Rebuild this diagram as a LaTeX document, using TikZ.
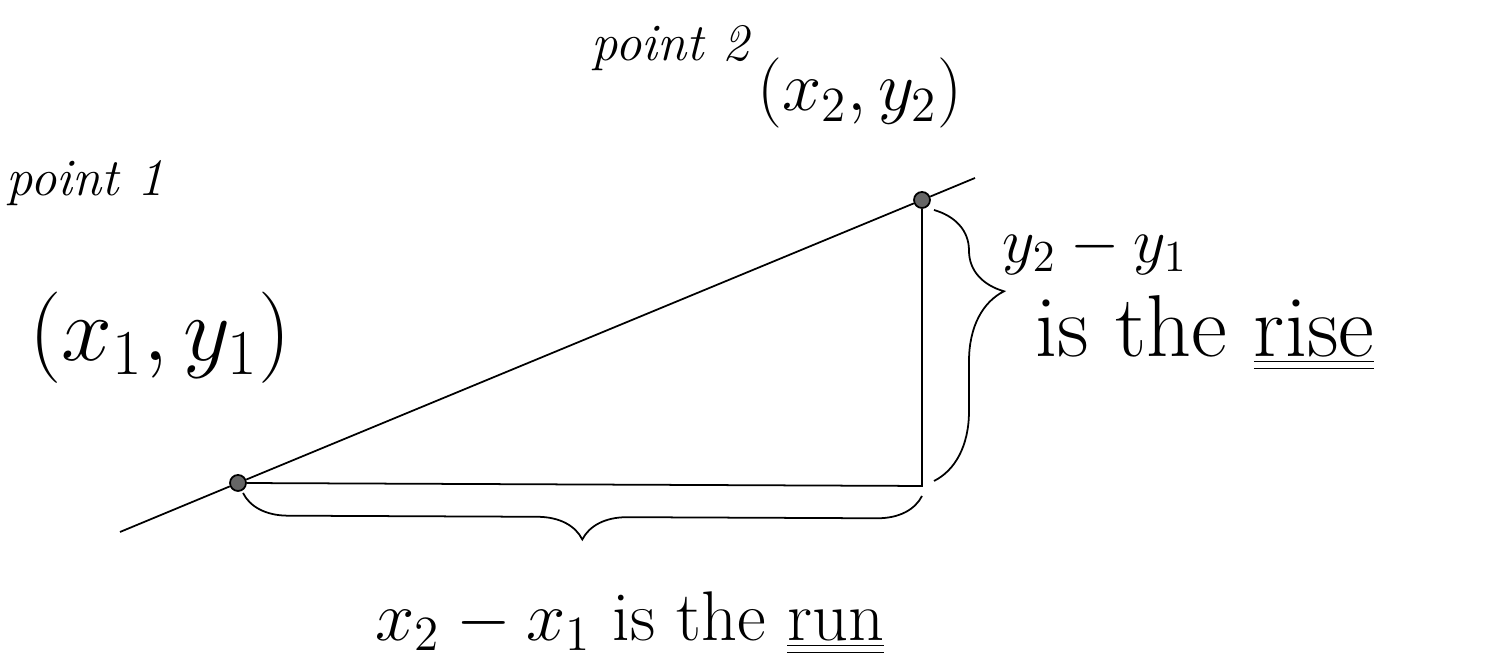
\RequirePackage{fix-cm}
\documentclass[tikz,border=0pt]{standalone}
\usepackage{fontspec}
\usetikzlibrary{decorations.pathreplacing,calc}
\newcommand{\fs}[1]{\fontsize{#1}{#1}\selectfont}
\begin{document}
\begin{tikzpicture}[line width=0.5pt,
  lbl/.style={inner sep=1pt, font=\fs{18}},
  big/.style={inner sep=1pt, font=\fs{26}},
  dot/.style={circle, fill=black!60, draw=black, inner sep=0pt, minimum size=1.6mm},
  brc/.style={decorate, decoration={brace, amplitude=#1}}]
\useasboundingbox (0,0) rectangle (15,6.68);
% points and the triangle
\node[dot] (p1) at (2.38,1.85) {};
\node[dot] (p2) at (9.22,4.68) {};
\coordinate (corner) at (9.22,1.82);
\coordinate (lo) at (1.20,1.36);
\coordinate (hi) at (9.75,4.90);
\draw (lo) -- (p1) -- (p2) -- (hi);
\draw (p1) -- (corner) -- (p2);
% braces
\draw[brc=7mm, decoration={aspect=0.3}] ($(p2)+(0.12,-0.1)$) -- ($(corner)+(0.12,0.05)$);
\draw[brc=4.5mm, decoration={aspect=0.5}] ($(corner)+(0,-0.1)$) -- ($(p1)+(0.05,-0.1)$);
% labels
\node[lbl, font=\fs{15}\itshape] (pt1) at (0.85,4.85) {point 1};
\node[big] (xy1) at (1.60,3.30) {$(x_1, y_1)$};
\node[lbl, font=\fs{15}\itshape] (pt2) at (6.70,6.20) {point 2};
\node[lbl, font=\fs{20}] (xy2) at (8.60,5.75) {$(x_2, y_2)$};
\node[lbl] (rise1) at (10.95,4.18) {$y_2 - y_1$};
\node[lbl, font=\fs{25}] (rise2) at (12.05,3.35) {is the \underline{\underline{rise}}};
\node[lbl, font=\fs{20}] (run) at (6.30,0.45) {$x_2 - x_1$ is the \underline{\underline{run}}};
\end{tikzpicture}
\end{document}
